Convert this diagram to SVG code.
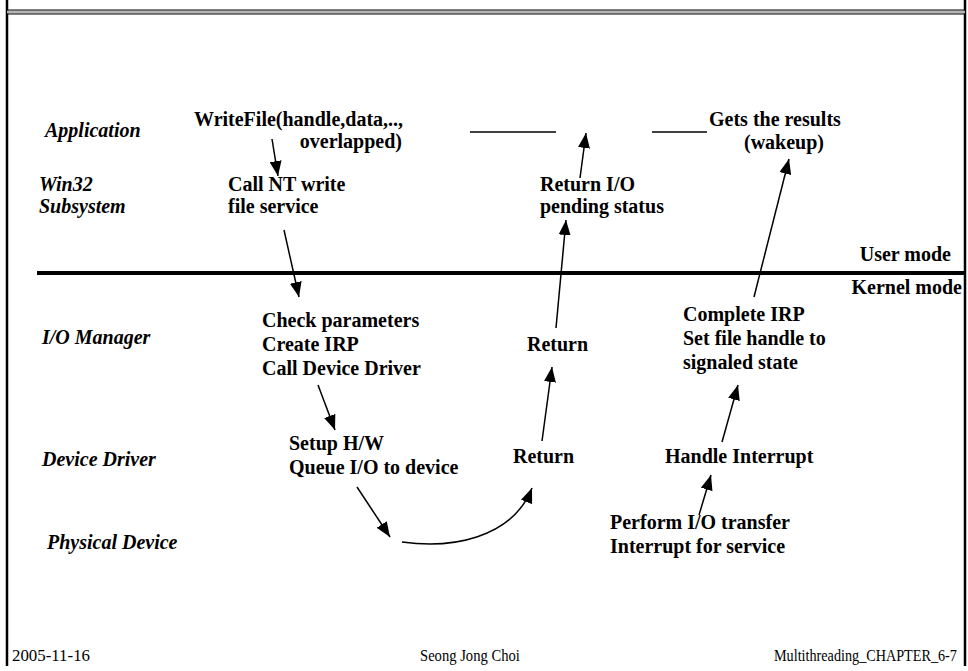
<svg xmlns="http://www.w3.org/2000/svg" width="968" height="671" viewBox="0 0 968 671">
  <style>
    .t { font-family: "Liberation Serif", "Times New Roman", serif; font-weight: bold; font-size: 20px; fill: #000; }
    .lab { font-family: "Liberation Serif", "Times New Roman", serif; font-weight: bold; font-style: italic; font-size: 20px; fill: #000; }
    .foot { font-family: "Liberation Serif", "Times New Roman", serif; font-size: 17px; fill: #000; }
    .arr { stroke: #000; stroke-width: 1.5; fill: none; marker-end: url(#head); }
    .ln { stroke: #000; stroke-width: 1.5; fill: none; }
  </style>
  <defs>
    <marker id="head" markerUnits="userSpaceOnUse" markerWidth="16" markerHeight="12" refX="15" refY="6" orient="auto">
      <path d="M0,0 L15,6 L0,12 z" fill="#000"/>
    </marker>
  </defs>

  <rect width="968" height="671" fill="#fff"/>

  <!-- slide frame -->
  <g id="frame">
    <line x1="7" y1="0" x2="7" y2="666" stroke="#000" stroke-width="2.5"/>
    <line x1="965" y1="0" x2="965" y2="666" stroke="#000" stroke-width="2.5"/>
    <rect x="7" y="10.5" width="958" height="3" fill="#b4b4b4"/>
    <line x1="7" y1="10" x2="965" y2="10" stroke="#000" stroke-width="1"/>
    <line x1="7" y1="14" x2="965" y2="14" stroke="#000" stroke-width="1"/>
  </g>

  <!-- user / kernel boundary -->
  <g id="boundary">
    <line x1="37" y1="273" x2="965" y2="273" stroke="#000" stroke-width="4"/>
    <text class="t" x="951" y="261" text-anchor="end">User mode</text>
    <text class="t" x="962" y="294" text-anchor="end">Kernel mode</text>
  </g>

  <!-- layer labels -->
  <g id="layer-labels">
    <text class="lab" x="45" y="137">Application</text>
    <text class="lab" x="39" y="191">Win32</text>
    <text class="lab" x="39" y="213">Subsystem</text>
    <text class="lab" x="42" y="344">I/O Manager</text>
    <text class="lab" x="42" y="466">Device Driver</text>
    <text class="lab" x="47" y="549">Physical Device</text>
  </g>

  <g id="app-writefile">
    <text class="t" x="194" y="126">WriteFile(handle,data,..,</text>
    <text class="t" x="402" y="148" text-anchor="end">overlapped)</text>
  </g>
  <g id="app-wait">
    <line class="ln" x1="470" y1="132" x2="556" y2="132"/>
    <line class="ln" x1="652" y1="132" x2="707" y2="132"/>
  </g>
  <g id="app-results">
    <text class="t" x="709" y="126">Gets the results</text>
    <text class="t" x="744" y="149">(wakeup)</text>
  </g>

  <g id="win32-call">
    <text class="t" x="228" y="191">Call NT write</text>
    <text class="t" x="228" y="213">file service</text>
  </g>
  <g id="win32-return">
    <text class="t" x="540" y="191">Return I/O</text>
    <text class="t" x="540" y="213">pending status</text>
  </g>

  <g id="iom-check">
    <text class="t" x="262" y="327">Check parameters</text>
    <text class="t" x="262" y="351">Create IRP</text>
    <text class="t" x="262" y="375">Call Device Driver</text>
  </g>
  <g id="iom-return">
    <text class="t" x="527" y="351">Return</text>
  </g>
  <g id="iom-complete">
    <text class="t" x="683" y="321">Complete IRP</text>
    <text class="t" x="683" y="345">Set file handle to</text>
    <text class="t" x="683" y="369">signaled state</text>
  </g>

  <g id="dd-setup">
    <text class="t" x="289" y="450">Setup H/W</text>
    <text class="t" x="289" y="474">Queue I/O to device</text>
  </g>
  <g id="dd-return">
    <text class="t" x="513" y="463">Return</text>
  </g>
  <g id="dd-interrupt">
    <text class="t" x="665" y="463">Handle Interrupt</text>
  </g>

  <g id="pd-transfer">
    <text class="t" x="610" y="529">Perform I/O transfer</text>
    <text class="t" x="610" y="553">Interrupt for service</text>
  </g>

  <!-- flow arrows -->
  <g id="connectors">
    <line class="arr" x1="272" y1="139" x2="278" y2="176"/>
    <line class="arr" x1="284" y1="230" x2="299" y2="297"/>
    <line class="arr" x1="318" y1="385" x2="335" y2="430"/>
    <line class="arr" x1="357" y1="487" x2="390" y2="537"/>
    <path class="arr" d="M402,542 C450,549 512,539 532,488"/>
    <line class="arr" x1="542" y1="441" x2="552" y2="367"/>
    <line class="arr" x1="556" y1="328" x2="566" y2="220"/>
    <line class="arr" x1="580" y1="178" x2="586" y2="133"/>
    <line class="arr" x1="754" y1="297" x2="789" y2="159"/>
    <line class="arr" x1="722" y1="442" x2="738" y2="385"/>
    <line class="arr" x1="699" y1="515" x2="711" y2="475"/>
  </g>

  <g id="footer">
    <text class="foot" x="12" y="661" textLength="78" lengthAdjust="spacingAndGlyphs">2005-11-16</text>
    <text class="foot" transform="translate(420,661) scale(0.86,1)">Seong Jong Choi</text>
    <text class="foot" transform="translate(774,661) scale(0.835,1)">Multithreading_CHAPTER_6-7</text>
  </g>
</svg>
